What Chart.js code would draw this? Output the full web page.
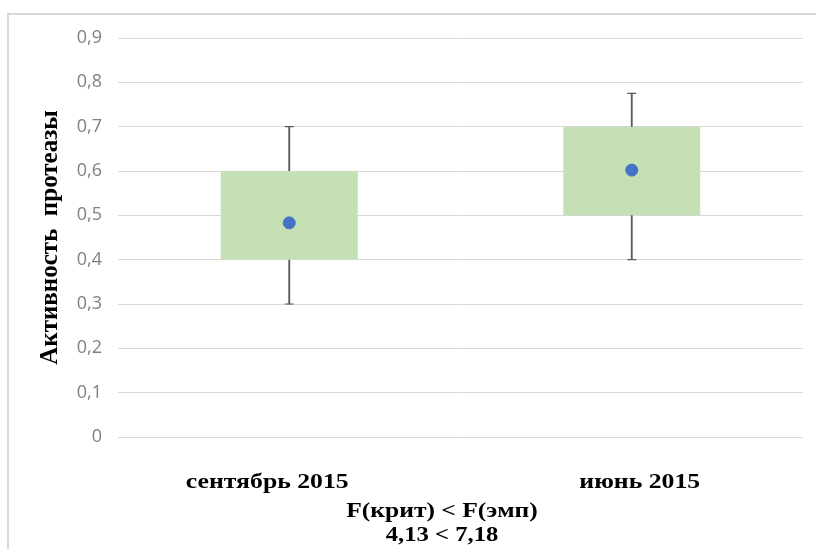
<!DOCTYPE html>
<html>
<head>
<meta charset="utf-8">
<script src="https://cdn.jsdelivr.net/npm/chart.js@4/dist/chart.umd.min.js"></script>
<style>
  html, body { margin: 0; padding: 0; background: #ffffff; }
  #wrap { position: relative; width: 816px; height: 549px; overflow: hidden; }
  #frame {
    position: absolute; left: 7px; top: 13px; width: 900px; height: 600px;
    border-left: 2px solid #d9d9d9; border-top: 2px solid #d9d9d9;
  }
  canvas { position: absolute; left: 0; top: 0; }
</style>
</head>
<body>
<div id="wrap">
  <div id="frame"></div>
  <canvas id="chart" width="816" height="549"></canvas>
</div>
<script>
// Periods compared
const categories = ['сентябрь 2015', 'июнь 2015'];
// Interquartile boxes (low, high)
const boxLow  = [0.4, 0.5];
const boxHigh = [0.6, 0.7];
// Whisker extents (min, max)
const whiskerMin = [0.3, 0.4];
const whiskerMax = [0.7, 0.775];
// Mean activity
const means = [0.483, 0.602];
// Y-axis ticks
const yTicks = [0, 0.1, 0.2, 0.3, 0.4, 0.5, 0.6, 0.7, 0.8, 0.9];
// Texts
const yTitle = 'Активность  протеазы';
const noteLines = ['F(крит) < F(эмп)', '4,13 < 7,18'];

const serifBold = 'bold 22px "Liberation Serif", "Times New Roman", serif';

// Draws wide serif text centred on (x, y)
function wideText(ctx, text, x, y, sx) {
  ctx.save();
  ctx.translate(x, y);
  ctx.scale(sx, 1);
  ctx.fillText(text, 0, 0);
  ctx.restore();
}

// Category labels under the axis and the statistics note
const textPlugin = {
  id: 'bottomTexts',
  afterDraw(chart) {
    const ctx = chart.ctx;
    const x = chart.scales.x;
    const shift = [-22, 8];
    ctx.save();
    ctx.fillStyle = '#000000';
    ctx.font = serifBold;
    ctx.textAlign = 'center';
    ctx.textBaseline = 'middle';
    categories.forEach((c, i) => {
      wideText(ctx, c, x.getPixelForValue(i) + shift[i], 482, 1.17);
    });
    wideText(ctx, noteLines[0], 442, 511, 1.16);
    wideText(ctx, noteLines[1], 442, 535, 1.12);
    ctx.restore();
  }
};

const boxData = categories.map((_, i) => [boxLow[i], boxHigh[i]]);
const whiskerData = categories.map((_, i) => [whiskerMin[i], whiskerMax[i]]);

new Chart(document.getElementById('chart'), {
  type: 'bar',
  data: {
    labels: categories,
    datasets: [
      {
        type: 'line', label: 'mean', data: means,
        showLine: false, pointRadius: 6, pointHoverRadius: 6,
        pointBackgroundColor: '#4472c4', pointBorderColor: '#4472c4',
        order: 0
      },
      {
        type: 'bar', label: 'box', data: boxData,
        backgroundColor: '#c5e0b4', borderWidth: 0,
        grouped: false, categoryPercentage: 1, barPercentage: 0.4,
        order: 1
      },
      {
        type: 'line', label: 'capHigh', data: whiskerMax,
        showLine: false, pointStyle: 'line', pointRadius: 4.5,
        borderColor: '#595959', pointBorderColor: '#595959', pointBorderWidth: 1.2,
        order: 2
      },
      {
        type: 'line', label: 'capLow', data: whiskerMin,
        showLine: false, pointStyle: 'line', pointRadius: 4.5,
        borderColor: '#595959', pointBorderColor: '#595959', pointBorderWidth: 1.2,
        order: 2
      },
      {
        type: 'bar', label: 'whisker', data: whiskerData,
        backgroundColor: '#595959', borderWidth: 0,
        grouped: false, barThickness: 1.2,
        order: 3
      }
    ]
  },
  options: {
    responsive: false,
    animation: false,
    events: [],
    layout: { padding: { top: 38, right: 13, bottom: 0, left: 0 } },
    plugins: { legend: { display: false }, tooltip: { enabled: false } },
    scales: {
      x: {
        grid: { display: false, drawTicks: false },
        border: { display: false },
        ticks: { display: false },
        afterFit(scale) { scale.height = 112; }
      },
      y: {
        min: 0, max: 0.9,
        afterFit(scale) { scale.width = 118; },
        afterBuildTicks(scale) { scale.ticks = yTicks.map(v => ({ value: v })); },
        grid: { color: '#d9d9d9', lineWidth: 1, drawTicks: false },
        border: { display: false },
        ticks: {
          padding: 16,
          color: '#808080',
          font: { family: '"Open Sans", sans-serif', size: 18 },
          callback: v => v === 0 ? '0' : v.toFixed(1).replace('.', ',')
        },
        title: {
          display: true,
          text: yTitle,
          color: '#000000',
          font: { family: '"Liberation Serif", "Times New Roman", serif', size: 25, weight: 'bold' },
          padding: { top: 36 }
        }
      }
    }
  },
  plugins: [textPlugin]
});
</script>
</body>
</html>
